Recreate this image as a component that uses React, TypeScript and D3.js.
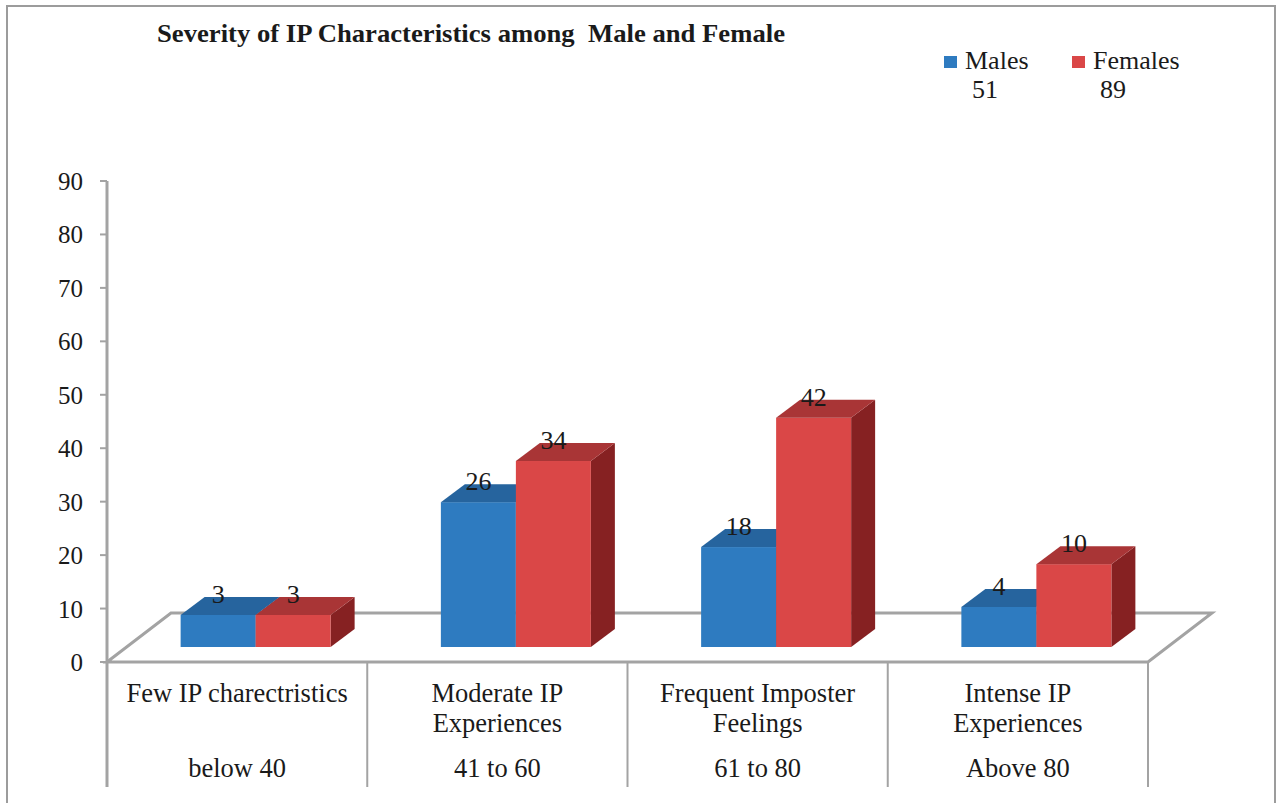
import React, { useRef, useEffect } from "react";
import * as d3 from "d3";

// categories (x axis), with the score range shown in the second table row
const categoryLines = [
  ["Few IP charectristics"],
  ["Moderate IP", "Experiences"],
  ["Frequent Imposter", "Feelings"],
  ["Intense IP", "Experiences"],
];
const scoreRanges = ["below 40", "41 to 60", "61 to 80", "Above 80"];

const seriesNames = ["Males", "Females"];
const seriesTotals = ["51", "89"];

// data labels printed on the bars
const maleLabels = [3, 26, 18, 4];
const femaleLabels = [3, 34, 42, 10];
// bar heights as drawn in the picture, read against the value axis
const maleHeights = [6, 27.1, 18.7, 7.5];
const femaleHeights = [6, 34.8, 42.9, 15.5];

const yTicks = [0, 10, 20, 30, 40, 50, 60, 70, 80, 90];

const colors = {
  Males: { front: "#2e7bc0", top: "#26649e", side: "#1f527f" },
  Females: { front: "#da4747", top: "#a93536", side: "#862122" },
};

const W = 1277;
const H = 803;
const FONT = "'Liberation Serif', 'Times New Roman', serif";

const App = () => {
  const svgRef = useRef<SVGSVGElement>(null);

  useEffect(() => {
    const svg = d3.select(svgRef.current);
    svg.selectAll("*").remove();

    const margin = { left: 107, right: 129, top: 181, floor: 662 };
    const floorDepth = { dx: 64, dy: -49 }; // full depth of the 3d floor
    const barShift = { dx: 18.5, dy: -15 }; // bars sit a bit back on the floor
    const barDepth = { dx: 24, dy: -18 };
    const tableBottom = 787;
    const grey = "#a3a3a3";

    const cats = categoryLines.map((d) => d.join(" "));
    const x = d3.scaleBand().domain(cats).range([margin.left, W - margin.right]);
    const inner = d3.scaleBand().domain(seriesNames).range([-75, 75]);
    const y = d3.scaleLinear().domain([0, 90]).range([margin.floor, margin.top]);

    // outer frame
    svg
      .append("rect")
      .attr("x", 7)
      .attr("y", 6)
      .attr("width", 1268)
      .attr("height", 830)
      .attr("fill", "white")
      .attr("stroke", "#9c9c9c")
      .attr("stroke-width", 2);

    // title
    svg
      .append("text")
      .attr("x", 157)
      .attr("y", 42)
      .attr("font-family", FONT)
      .attr("font-weight", "bold")
      .attr("font-size", 25)
      .attr("textLength", 628)
      .attr("lengthAdjust", "spacingAndGlyphs")
      .attr("fill", "#1a1a1a")
      .style("white-space", "pre")
      .text("Severity of IP Characteristics among  Male and Female");

    // legend
    const legend = svg.append("g");
    seriesNames.forEach((name, i) => {
      const lx = 944 + i * 128;
      legend
        .append("rect")
        .attr("x", lx)
        .attr("y", 56)
        .attr("width", 13)
        .attr("height", 12)
        .attr("fill", colors[name].front);
      legend
        .append("text")
        .attr("x", lx + 21)
        .attr("y", 69)
        .attr("font-family", FONT)
        .attr("font-size", 26)
        .attr("fill", "#1a1a1a")
        .text(name);
      legend
        .append("text")
        .attr("x", lx + 28)
        .attr("y", 98)
        .attr("font-family", FONT)
        .attr("font-size", 26)
        .attr("fill", "#1a1a1a")
        .text(seriesTotals[i]);
    });

    // floor outline
    const x0 = margin.left;
    const x1 = W - margin.right;
    const fy = margin.floor;
    svg
      .append("path")
      .attr(
        "d",
        `M${x0},${fy} L${x0 + floorDepth.dx},${fy + floorDepth.dy} L${x1 + floorDepth.dx},${
          fy + floorDepth.dy
        } L${x1},${fy} Z`
      )
      .attr("fill", "none")
      .attr("stroke", grey)
      .attr("stroke-width", 3)
      .attr("stroke-linejoin", "miter");

    // value axis
    svg
      .append("line")
      .attr("x1", x0)
      .attr("x2", x0)
      .attr("y1", y(90))
      .attr("y2", tableBottom)
      .attr("stroke", grey)
      .attr("stroke-width", 3);

    const ticks = svg.append("g");
    yTicks.forEach((t) => {
      ticks
        .append("line")
        .attr("x1", x0 - 7)
        .attr("x2", x0)
        .attr("y1", y(t))
        .attr("y2", y(t))
        .attr("stroke", grey)
        .attr("stroke-width", 2);
      ticks
        .append("text")
        .attr("x", 83)
        .attr("y", y(t) + 9)
        .attr("text-anchor", "end")
        .attr("font-family", FONT)
        .attr("font-size", 25)
        .attr("fill", "#1a1a1a")
        .text(t);
    });

    // table below the floor
    cats.forEach((c) => {
      svg
        .append("line")
        .attr("x1", x(c) + x.bandwidth())
        .attr("x2", x(c) + x.bandwidth())
        .attr("y1", fy)
        .attr("y2", tableBottom)
        .attr("stroke", grey)
        .attr("stroke-width", 2);
    });

    categoryLines.forEach((lines, i) => {
      const cx = x(cats[i]) + x.bandwidth() / 2;
      const t = svg
        .append("text")
        .attr("x", cx)
        .attr("y", 702)
        .attr("text-anchor", "middle")
        .attr("font-family", FONT)
        .attr("font-size", 26.5)
        .attr("fill", "#1a1a1a");
      lines.forEach((l, j) => {
        t.append("tspan")
          .attr("x", cx)
          .attr("dy", j === 0 ? 0 : 30)
          .text(l);
      });
      svg
        .append("text")
        .attr("x", cx)
        .attr("y", 777)
        .attr("text-anchor", "middle")
        .attr("font-family", FONT)
        .attr("font-size", 26.5)
        .attr("fill", "#1a1a1a")
        .text(scoreRanges[i]);
    });

    // 3d bars
    const heights = { Males: maleHeights, Females: femaleHeights };
    const labels = { Males: maleLabels, Females: femaleLabels };
    const bars = svg.append("g");
    const w = inner.bandwidth();

    cats.forEach((c, i) => {
      seriesNames.forEach((s) => {
        const bx = x(c) + x.bandwidth() / 2 + barShift.dx + inner(s);
        const yb = y(0) + barShift.dy;
        const yt = y(heights[s][i]) + barShift.dy;
        const col = colors[s];

        bars
          .append("path")
          .attr(
            "d",
            `M${bx + w},${yt} L${bx + w + barDepth.dx},${yt + barDepth.dy} L${bx + w + barDepth.dx},${
              yb + barDepth.dy
            } L${bx + w},${yb} Z`
          )
          .attr("fill", col.side);
        bars
          .append("rect")
          .attr("x", bx)
          .attr("y", yt)
          .attr("width", w)
          .attr("height", yb - yt)
          .attr("fill", col.front);
        bars
          .append("path")
          .attr(
            "d",
            `M${bx},${yt} L${bx + w},${yt} L${bx + w + barDepth.dx},${yt + barDepth.dy} L${
              bx + barDepth.dx
            },${yt + barDepth.dy} Z`
          )
          .attr("fill", col.top);
      });
    });

    // data labels
    cats.forEach((c, i) => {
      seriesNames.forEach((s) => {
        const bx = x(c) + x.bandwidth() / 2 + barShift.dx + inner(s);
        const yt = y(heights[s][i]) + barShift.dy;
        svg
          .append("text")
          .attr("x", bx + w / 2)
          .attr("y", yt - 12)
          .attr("text-anchor", "middle")
          .attr("font-family", FONT)
          .attr("font-size", 26)
          .attr("fill", "#1a1a1a")
          .text(labels[s][i]);
      });
    });
  }, []);

  return (
    <svg
      ref={svgRef}
      width={W}
      height={H}
      style={{ position: "absolute", left: 0, top: 0, background: "white" }}
    ></svg>
  );
};

export default App;
